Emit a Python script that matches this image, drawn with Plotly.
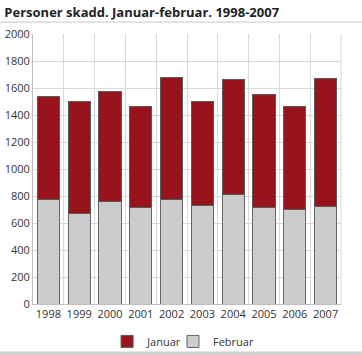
import plotly.graph_objects as go

years = ["1998", "1999", "2000", "2001", "2002", "2003", "2004", "2005", "2006", "2007"]
februar = [773, 672, 758, 718, 777, 733, 814, 718, 701, 725]
januar = [764, 831, 814, 748, 898, 770, 846, 837, 762, 943]

fig = go.Figure()
fig.add_trace(go.Bar(x=years, y=februar, name="Februar", legend="legend2",
                     marker=dict(color="#cccccc", line=dict(color="#666666", width=1)), width=0.72))
fig.add_trace(go.Bar(x=years, y=januar, name="Januar", legend="legend",
                     marker=dict(color="#97141c", line=dict(color="#5a5a5a", width=1)), width=0.72))

font = "Open Sans, DejaVu Sans, sans-serif"
leg_common = dict(orientation="h", y=-0.085, yanchor="top", xanchor="left",
                  bgcolor="rgba(0,0,0,0)",
                  font=dict(size=11, color="#333333"), itemwidth=30)
fig.update_layout(
    barmode="stack",
    width=362, height=355,
    margin=dict(l=33, r=21, t=34, b=51, autoexpand=False),
    paper_bgcolor="white", plot_bgcolor="white",
    font=dict(family=font, size=11, color="#333333"),
    title=dict(text="<b>Personer skadd. Januar-februar. 1998-2007</b>", x=0.012, xanchor="left",
               y=0.966, yanchor="middle", font=dict(size=13, color="#222222", family=font)),
    showlegend=True,
    legend=dict(x=0.2405, **leg_common),
    legend2=dict(x=0.4545, **leg_common),
    bargap=0.28,
    xaxis=dict(type="category", tickson="boundaries", showgrid=True, gridcolor="#d9d9d9",
               ticks="", showline=True, linecolor="#bfbfbf", mirror=False, tickangle=0,
               automargin=False, tickfont=dict(size=11, color="#333333")),
    yaxis=dict(range=[0, 2000], dtick=200, showgrid=True, gridcolor="#d9d9d9", ticks="",
               showline=True, linecolor="#bfbfbf", zeroline=False, automargin=False,
               tickfont=dict(size=11, color="#333333")),
    shapes=[
        dict(type="line", xref="paper", yref="paper", x0=-0.11, x1=1.07, y0=1.044, y1=1.044,
             line=dict(color="#c8c8c8", width=1)),
        dict(type="rect", xref="paper", yref="paper", x0=-0.11, x1=1.07, y0=-0.19, y1=-0.176,
             line=dict(width=0), fillcolor="#d0d0d0"),
        dict(type="line", xref="paper", yref="paper", x0=1, x1=1, y0=0, y1=1,
             line=dict(color="#d9d9d9", width=1)),
    ],
)

fig.write_html("out.html")
